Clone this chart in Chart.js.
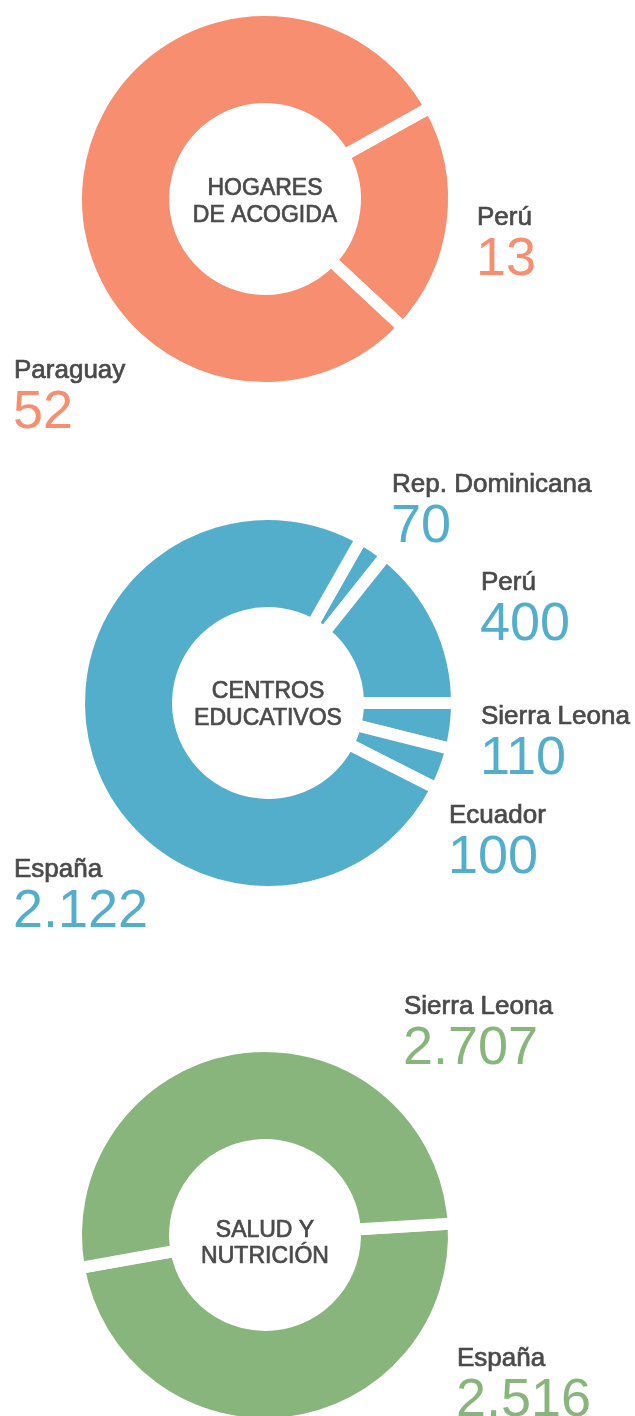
<!DOCTYPE html>
<html lang="es">
<head>
<meta charset="utf-8">
<title>Programas por país</title>
<script src="https://cdn.jsdelivr.net/npm/chart.js@4.4.0/dist/chart.umd.min.js"></script>
<style>
    html, body { margin: 0; padding: 0; background: #ffffff; }
    body { width: 635px; height: 1416px; overflow: hidden; position: relative; }
    canvas { position: absolute; left: 0; }
</style>
</head>
<body>
<canvas id="hogaresChart" width="635" height="560"></canvas>
<canvas id="centrosChart" width="635" height="560"></canvas>
<canvas id="saludChart" width="635" height="560"></canvas>

<script>
// Data
const hogaresTitle = ['HOGARES', 'DE ACOGIDA'];
const hogaresLabels = ['Perú', 'Paraguay'];
const hogaresValues = [13, 52];

const centrosTitle = ['CENTROS', 'EDUCATIVOS'];
const centrosLabels = ['Rep. Dominicana', 'Perú', 'Sierra Leona', 'Ecuador', 'España'];
const centrosValues = [70, 400, 110, 100, 2122];

const saludTitle = ['SALUD Y', 'NUTRICIÓN'];
const saludLabels = ['España', 'Sierra Leona'];
const saludValues = [2516, 2707];

// Layout (page coordinates): donut centre, label name baselines
const hogaresLayout = { cx: 265, cy: 199, rotation: 61, titleY: [-4, 23],
    labelPos: [[477, 225], [14, 378]] };
const centrosLayout = { cx: 268, cy: 703, rotation: 29.6, titleY: [-5, 22],
    labelPos: [[392, 492], [481, 590], [481, 724], [449, 823], [14, 877]] };
const saludLayout = { cx: 265, cy: 1235, rotation: 86.5, titleY: [2, 28],
    labelPos: [[457, 1366], [404, 1014]] };

const CANVAS_H = 560;
const TEXT_COLOR = '#4a4a4a';
const FONT = '"Liberation Sans", Arial, sans-serif';

function formatValue(n) {
    return String(n).replace(/\B(?=(\d{3})+(?!\d))/g, '.');
}

// fill + thin stroke to get a medium weight
function mediumText(ctx, text, x, y) {
    ctx.fillText(text, x, y);
    ctx.lineWidth = 0.7;
    ctx.strokeStyle = ctx.fillStyle;
    ctx.strokeText(text, x, y);
}

// Plugin drawing the centre title and the outside labels
function makeTextPlugin(title, labels, values, layout, color) {
    const top = layout.cy - CANVAS_H / 2;
    return {
        id: 'donutText',
        afterDraw(chart) {
            const ctx = chart.ctx;
            ctx.save();
            ctx.textBaseline = 'alphabetic';

            ctx.fillStyle = TEXT_COLOR;
            ctx.textAlign = 'center';
            ctx.font = '23px ' + FONT;
            title.forEach((line, i) => {
                mediumText(ctx, line, layout.cx, layout.cy + layout.titleY[i] - top);
            });

            ctx.textAlign = 'left';
            labels.forEach((label, i) => {
                const [x, y] = layout.labelPos[i];
                ctx.fillStyle = TEXT_COLOR;
                ctx.font = '26px ' + FONT;
                mediumText(ctx, label, x, y - top);
                ctx.fillStyle = color;
                ctx.font = '54px ' + FONT;
                ctx.fillText(formatValue(values[i]), x - 1, y + 50 - top);
            });
            ctx.restore();
        }
    };
}

function initializeDonut(id, title, labels, values, layout, color) {
    const canvas = document.getElementById(id);
    if (!canvas) return;
    canvas.style.top = (layout.cy - CANVAS_H / 2) + 'px';

    const config = {
        type: 'doughnut',
        data: {
            labels: labels,
            datasets: [{
                data: values,
                backgroundColor: color,
                borderColor: '#ffffff',
                borderWidth: 12,
                borderJoinStyle: 'miter'
            }]
        },
        options: {
            responsive: false,
            animation: false,
            rotation: layout.rotation,
            radius: 189,
            cutout: '47.6%',
            layout: {
                padding: {
                    left: layout.cx - 200,
                    right: 635 - layout.cx - 200,
                    top: CANVAS_H / 2 - 200,
                    bottom: CANVAS_H / 2 - 200
                }
            },
            plugins: {
                legend: { display: false },
                tooltip: { enabled: false }
            }
        },
        plugins: [makeTextPlugin(title, labels, values, layout, color)]
    };

    try {
        return new Chart(canvas, config);
    } catch (error) {
        console.error('Error initializing ' + id + ':', error);
    }
}

initializeDonut('hogaresChart', hogaresTitle, hogaresLabels, hogaresValues, hogaresLayout, '#f68e6f');
initializeDonut('centrosChart', centrosTitle, centrosLabels, centrosValues, centrosLayout, '#53aecc');
initializeDonut('saludChart', saludTitle, saludLabels, saludValues, saludLayout, '#88b57b');
</script>
</body>
</html>
